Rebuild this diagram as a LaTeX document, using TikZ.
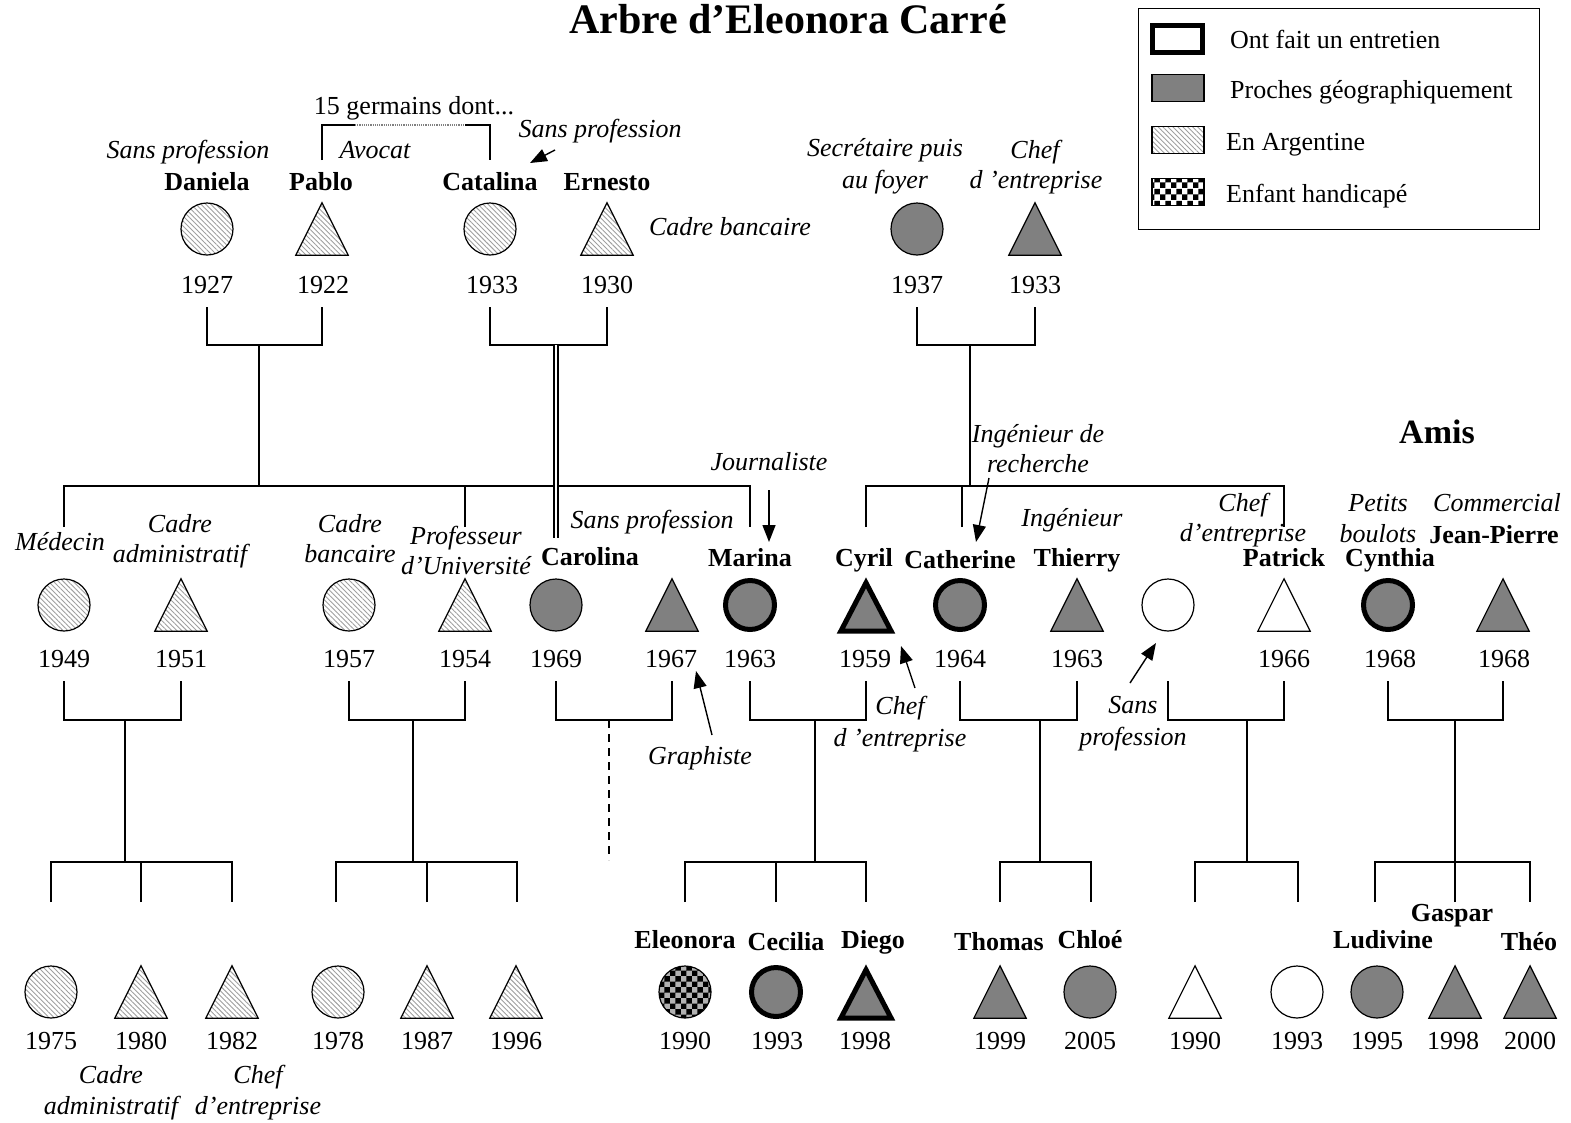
\documentclass[tikz,border=0pt]{standalone}
\usepackage{fontspec}
\setmainfont{Liberation Serif}
\usetikzlibrary{calc,arrows.meta,patterns,patterns.meta}
\newcommand\ptri[3]{\node[tbox] (#1) at (#2) {};\draw[shp,#3] (#1.south west) -- (#1.north) -- (#1.south east) -- cycle;}
\newcommand\ptrx[3]{\node[tbox,minimum width=50pt,minimum height=48pt] (#1) at (#2) {};\draw[shp,#3] (#1.south west) -- (#1.north) -- (#1.south east) -- cycle;}
\newcommand\pcirc[3]{\node[circ,#3] (#1) at (#2) {};}
\tikzset{
 every node/.style={inner sep=0pt},
 txt/.style={font=\fontsize{26}{30}\selectfont, anchor=base},
 nm/.style={font=\fontsize{26}{30}\selectfont\bfseries, anchor=base},
 lab/.style={font=\fontsize{26}{30}\selectfont\itshape, anchor=base},
 shp/.style={line width=1.2pt, draw=black},
 circ/.style={shp, circle, minimum size=52pt},
 tbox/.style={minimum width=52pt, minimum height=52pt},
 argent/.style={pattern={Lines[angle=-45,distance=3.5pt,line width=0.9pt]}, pattern color=gray!75},
 proche/.style={fill=gray},
 blanc/.style={fill=white},
 handi/.style={preaction={fill=gray!60}, pattern=checkerboard, pattern color=black},
 entr/.style={line width=5pt},
 link/.style={line width=1.4pt},
 arr/.style={line width=1.4pt, -{Triangle[length=17pt,width=13pt]}},
}
\begin{document}
\begin{tikzpicture}[x=1pt,y=-1pt]
\useasboundingbox (0,0) rectangle (1571,1122);
% title
\node[font=\fontsize{42}{50}\selectfont\bfseries, anchor=base] (title) at (788,33) {Arbre d’Eleonora Carré};
% legend
\node[draw, line width=1.4pt, minimum width=401pt, minimum height=221pt, anchor=north west] (leg) at (1138,8) {};
\node[draw, entr, fill=white, minimum width=50pt, minimum height=27pt] (k1) at (1177,39) {};
\node[shp, proche, minimum width=52pt, minimum height=27pt] (k2) at (1178,88) {};
\node[shp, argent, minimum width=52pt, minimum height=27pt] (k3) at (1178,140) {};
\node[shp, preaction={fill=white}, pattern=checkerboard, pattern color=black, minimum width=52pt, minimum height=27pt] (k4) at (1178,192) {};
\node[txt, anchor=base west] (t1) at (1230,48) {Ont fait un entretien};
\node[txt, anchor=base west] (t2) at (1230,98) {Proches géographiquement};
\node[txt, anchor=base west] (t3) at (1226,150) {En Argentine};
\node[txt, anchor=base west] (t4) at (1226,202) {Enfant handicapé};
\node[font=\fontsize{34}{40}\selectfont\bfseries, anchor=base] (amis) at (1437,443) {Amis};

% ---------- generation 1 ----------
\pcirc{dan}{207,229}{argent}
\ptri{pab}{322,229}{argent}
\pcirc{cta}{490,229}{argent}
\ptri{ern}{607,229}{argent}
\pcirc{gm}{917,229}{proche}
\ptri{gp}{1035,229}{proche}
\node[nm] (ndan) at (207,190) {Daniela};
\node[nm] (npab) at (321,190) {Pablo};
\node[nm] (ncta) at (490,190) {Catalina};
\node[nm] (nern) at (607,190) {Ernesto};
\node[lab] (ldan) at (188,158) {Sans profession};
\node[lab] (lpab) at (375,158) {Avocat};
\node[txt] (germ) at (414,114) {15 germains dont...};
\node[lab] (lcta) at (600,137) {Sans profession};
\node[lab] (lern) at (730,235) {Cadre bancaire};
\node[lab] (lgm1) at (885,156) {Secrétaire puis};
\node[lab] (lgm2) at (885,188) {au foyer};
\node[lab] (lgp1) at (1035,158) {Chef};
\node[lab] (lgp2) at (1036,188) {d ’entreprise};
\node[txt] (ydan) at (207,293) {1927};
\node[txt] (ypab) at (323,293) {1922};
\node[txt] (ycta) at (492,293) {1933};
\node[txt] (yern) at (607,293) {1930};
\node[txt] (ygm) at (917,293) {1937};
\node[txt] (ygp) at (1035,293) {1933};
% germains bracket
\draw[link] ($(pab)+(0,-69)$) -- ($(pab)+(0,-104)$) -- ($(pab)+(33,-104)$);
\draw[line width=1.2pt, densely dotted, gray] ($(pab)+(33,-104)$) -- ($(cta)+(-25,-104)$);
\draw[link] ($(cta)+(-25,-104)$) -- ($(cta)+(0,-104)$) -- ($(cta)+(0,-69)$);
\coordinate (aS1) at (555,150); \coordinate (aE1) at (530,163);
\draw[arr] (aS1) -- (aE1);

% ---------- generation 2 ----------
\pcirc{med}{64,605}{argent}
\ptri{cad}{181,605}{argent}
\pcirc{cba}{349,605}{argent}
\ptri{pro}{465,605}{argent}
\pcirc{car}{556,605}{proche}
\ptri{gra}{672,605}{proche}
\pcirc{mar}{750,605}{proche,entr,minimum size=49pt}
\ptrx{cyr}{866,607}{proche,entr}
\pcirc{cat}{960,605}{proche,entr,minimum size=49pt}
\ptri{thi}{1077,605}{proche}
\pcirc{spw}{1168,605}{blanc}
\ptri{pat}{1284,605}{blanc}
\pcirc{cyn}{1388,605}{proche,entr,minimum size=49pt}
\ptri{jp}{1503,605}{proche}
\node[nm] (ncar) at (590,565) {Carolina};
\node[nm] (nmar) at (750,566) {Marina};
\node[nm] (ncyr) at (864,566) {Cyril};
\node[nm] (ncat) at (960,568) {Catherine};
\node[nm] (nthi) at (1077,566) {Thierry};
\node[nm] (npat) at (1284,566) {Patrick};
\node[nm] (ncyn) at (1390,566) {Cynthia};
\node[nm] (njp) at (1494,543) {Jean-Pierre};
\node[lab] (lmed) at (60,550) {Médecin};
\node[lab] (lcad1) at (180,532) {Cadre};
\node[lab] (lcad2) at (180,562) {administratif};
\node[lab] (lcba1) at (350,532) {Cadre};
\node[lab] (lcba2) at (350,562) {bancaire};
\node[lab] (lpro1) at (466,544) {Professeur};
\node[lab] (lpro2) at (466,574) {d’Université};
\node[lab] (lcar) at (652,528) {Sans profession};
\node[lab] (lmar) at (769,470) {Journaliste};
\node[lab] (lcat1) at (1038,442) {Ingénieur de};
\node[lab] (lcat2) at (1038,472) {recherche};
\node[lab] (lthi) at (1072,526) {Ingénieur};
\node[lab] (lpat1) at (1243,511) {Chef};
\node[lab] (lpat2) at (1243,541) {d’entreprise};
\node[lab] (lcyn1) at (1378,511) {Petits};
\node[lab] (lcyn2) at (1378,542) {boulots};
\node[lab] (ljp) at (1497,511) {Commercial};
\node[lab] (lgra) at (700,764) {Graphiste};
\node[lab] (lcyr1) at (900,714) {Chef};
\node[lab] (lcyr2) at (900,746) {d ’entreprise};
\node[lab] (lspw1) at (1133,713) {Sans};
\node[lab] (lspw2) at (1133,745) {profession};
\node[txt] (ymed) at (64,667) {1949};
\node[txt] (ycad) at (181,667) {1951};
\node[txt] (ycba) at (349,667) {1957};
\node[txt] (ypro) at (465,667) {1954};
\node[txt] (ycar) at (556,667) {1969};
\node[txt] (ygra) at (671,667) {1967};
\node[txt] (ymar) at (750,667) {1963};
\node[txt] (ycyr) at (865,667) {1959};
\node[txt] (ycat) at (960,667) {1964};
\node[txt] (ythi) at (1077,667) {1963};
\node[txt] (ypat) at (1284,667) {1966};
\node[txt] (ycyn) at (1390,667) {1968};
\node[txt] (yjp) at (1504,667) {1968};
% arrows gen 2
\coordinate (aS2) at (769,490); \coordinate (aE2) at (769,542);
\coordinate (aS3) at (989,478); \coordinate (aE3) at (976,542);
\coordinate (aS4) at (712,735); \coordinate (aE4) at (696,671);
\coordinate (aS5) at (915,688); \coordinate (aE5) at (901,646);
\coordinate (aS6) at (1130,683); \coordinate (aE6) at (1156,643);
\draw[arr] (aS2) -- (aE2);
\draw[arr] (aS3) -- (aE3);
\draw[arr] (aS4) -- (aE4);
\draw[arr] (aS5) -- (aE5);
\draw[arr] (aS6) -- (aE6);

% gen1 couples
\draw[link] ($(dan)+(0,78)$) -- ($(dan)+(0,116)$) -| ($(pab)+(0,78)$);
\draw[link] ($(cta)+(0,78)$) -- ($(cta)+(0,116)$) -| ($(ern)+(0,78)$);
\draw[link] ($(gm)+(0,78)$) -- ($(gm)+(0,116)$) -| ($(gp)+(0,78)$);
\coordinate (jA) at (259,345);
\coordinate (jB) at (556,345);
\coordinate (jC) at (970,345);
\draw[link] (jA) -- ++(0,141);
\draw[link] ($(med)+(0,-78)$) |- ($(mar)+(0,-119)$) -- ($(mar)+(0,-78)$);
\draw[link] ($(pro)+(0,-78)$) -- ++(0,-41);
\draw[line width=1.5pt, double, double distance=2.6pt] (jB) -- ($(car)+(0,-67)$);
\draw[link] (jC) -- ++(0,141);
\draw[link] ($(cyr)+(0,-80)$) |- ($(pat)+(0,-119)$) -- ($(pat)+(0,-78)$);
\draw[link] ($(cat)+(2,-78)$) -- ++(0,-41);

% gen2 couples
\draw[link] ($(med)+(0,76)$) -- ($(med)+(0,115)$) -| ($(cad)+(0,76)$);
\draw[link] ($(cba)+(0,76)$) -- ($(cba)+(0,115)$) -| ($(pro)+(0,76)$);
\draw[link] ($(car)+(0,76)$) -- ($(car)+(0,115)$) -| ($(gra)+(0,76)$);
\draw[link] ($(mar)+(0,76)$) -- ($(mar)+(0,115)$) -| ($(cyr)+(0,74)$);
\draw[link] ($(cat)+(0,76)$) -- ($(cat)+(0,115)$) -| ($(thi)+(0,76)$);
\draw[link] ($(spw)+(0,76)$) -- ($(spw)+(0,115)$) -| ($(pat)+(0,76)$);
\draw[link] ($(cyn)+(0,76)$) -- ($(cyn)+(0,115)$) -| ($(jp)+(0,76)$);
\coordinate (jD) at (125,720);
\coordinate (jE) at (413,720);
\coordinate (jF) at (609,720);
\coordinate (jG) at (815,720);
\coordinate (jH) at (1040,720);
\coordinate (jI) at (1247,720);
\coordinate (jJ) at (1455,720);
\draw[link] (jD) -- ++(0,142);
\draw[link] (jE) -- ++(0,142);
\draw[link, dash pattern=on 8pt off 6pt] (jF) -- ++(0,140);
\draw[link] (jG) -- ++(0,142);
\draw[link] (jH) -- ++(0,142);
\draw[link] (jI) -- ++(0,142);
\draw[link] (jJ) -- ++(0,142);

% ---------- generation 3 ----------
\pcirc{a1}{51,992}{argent}
\ptri{a2}{141,992}{argent}
\ptri{a3}{232,992}{argent}
\pcirc{b1}{338,992}{argent}
\ptri{b2}{427,992}{argent}
\ptri{b3}{516,992}{argent}
\pcirc{ele}{685,992}{handi}
\pcirc{cec}{776,992}{proche,entr,minimum size=49pt}
\ptrx{die}{866,994}{proche,entr}
\ptri{tho}{1000,992}{proche}
\pcirc{chl}{1090,992}{proche}
\ptri{w1}{1195,992}{blanc}
\pcirc{w2}{1297,992}{blanc}
\pcirc{lud}{1377,992}{proche}
\ptri{gas}{1455,992}{proche}
\ptri{theo}{1530,992}{proche}
\node[nm] (nele) at (685,948) {Eleonora};
\node[nm] (ncec) at (786,950) {Cecilia};
\node[nm] (ndie) at (873,948) {Diego};
\node[nm] (ntho) at (999,950) {Thomas};
\node[nm] (nchl) at (1090,948) {Chloé};
\node[nm] (nlud) at (1383,948) {Ludivine};
\node[nm] (ngas) at (1452,921) {Gaspar};
\node[nm] (ntheo) at (1529,950) {Théo};
\node[txt] (ya1) at (51,1049) {1975};
\node[txt] (ya2) at (141,1049) {1980};
\node[txt] (ya3) at (232,1049) {1982};
\node[txt] (yb1) at (338,1049) {1978};
\node[txt] (yb2) at (427,1049) {1987};
\node[txt] (yb3) at (516,1049) {1996};
\node[txt] (yele) at (685,1049) {1990};
\node[txt] (ycec) at (777,1049) {1993};
\node[txt] (ydie) at (865,1049) {1998};
\node[txt] (ytho) at (1000,1049) {1999};
\node[txt] (ychl) at (1090,1049) {2005};
\node[txt] (yw1) at (1195,1049) {1990};
\node[txt] (yw2) at (1297,1049) {1993};
\node[txt] (ylud) at (1377,1049) {1995};
\node[txt] (ygas) at (1453,1049) {1998};
\node[txt] (ytheo) at (1530,1049) {2000};
\node[lab] (la21) at (111,1083) {Cadre};
\node[lab] (la22) at (111,1114) {administratif};
\node[lab] (la31) at (258,1083) {Chef};
\node[lab] (la32) at (258,1114) {d’entreprise};
% gen3 sibling bars
\draw[link] ($(a1)+(0,-90)$) |- ($(a3)+(0,-130)$) -- ($(a3)+(0,-90)$);
\draw[link] ($(a2)+(0,-90)$) -- ++(0,-40);
\draw[link] ($(b1)+(-2,-90)$) |- ($(b3)+(1,-130)$) -- ($(b3)+(1,-90)$);
\draw[link] ($(b2)+(0,-90)$) -- ++(0,-40);
\draw[link] ($(ele)+(0,-90)$) |- ($(die)+(0,-132)$) -- ($(die)+(0,-92)$);
\draw[link] ($(cec)+(0,-90)$) -- ++(0,-40);
\draw[link] ($(tho)+(0,-90)$) |- ($(chl)+(1,-130)$) -- ($(chl)+(1,-90)$);
\draw[link] ($(w1)+(0,-90)$) |- ($(w2)+(1,-130)$) -- ($(w2)+(1,-90)$);
\draw[link] ($(lud)+(-2,-90)$) |- ($(theo)+(0,-130)$) -- ($(theo)+(0,-90)$);
\draw[link] ($(gas)+(0,-90)$) -- ++(0,-40);
\end{tikzpicture}
\end{document}
